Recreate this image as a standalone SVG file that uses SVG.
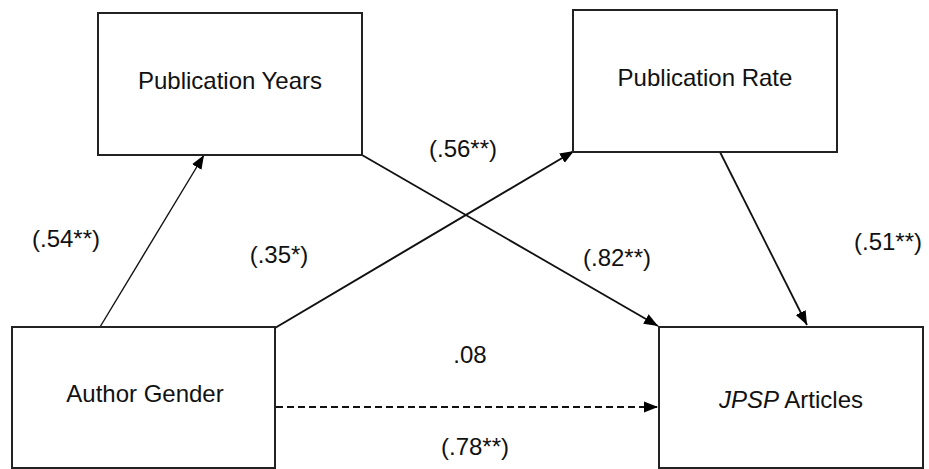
<svg xmlns="http://www.w3.org/2000/svg" width="929" height="469" viewBox="0 0 929 469">
<style>
.box{fill:#fff;stroke:#222;stroke-width:2}
.lbl{font-family:"Liberation Sans",Arial,sans-serif;font-size:24px;fill:#111;text-anchor:middle}
.num{font-family:"Liberation Sans",Arial,sans-serif;font-size:24px;fill:#111;text-anchor:middle}
.edge{stroke:#111;fill:none}
</style>
<defs>
<marker id="ah" markerUnits="userSpaceOnUse" markerWidth="15" markerHeight="12" refX="14" refY="6" orient="auto">
<path d="M0,0.5 L14,6 L0,11.5 z" fill="#000"/>
</marker>
</defs>
<rect width="929" height="469" fill="#fff"/>
<g id="connectors">
<line class="edge" x1="100" y1="327" x2="204" y2="155" stroke-width="1.4" marker-end="url(#ah)"/>
<line class="edge" x1="275" y1="328" x2="574" y2="151" stroke-width="2" marker-end="url(#ah)"/>
<line class="edge" x1="362" y1="155" x2="658" y2="326" stroke-width="1.8" marker-end="url(#ah)"/>
<line class="edge" x1="720" y1="152" x2="807" y2="325" stroke-width="1.8" marker-end="url(#ah)"/>
<line class="edge" x1="276" y1="407" x2="658" y2="407" stroke-width="1.8" stroke-dasharray="7,4" marker-end="url(#ah)"/>
</g>
<g id="publication-years">
<rect class="box" x="98" y="13" width="264" height="142"/>
<text class="lbl" x="230" y="89">Publication Years</text>
</g>
<g id="publication-rate">
<rect class="box" x="573" y="10" width="264" height="142"/>
<text class="lbl" x="705" y="86">Publication Rate</text>
</g>
<g id="author-gender">
<rect class="box" x="12" y="327" width="263" height="141"/>
<text class="lbl" x="145" y="402">Author Gender</text>
</g>
<g id="jpsp-articles">
<rect class="box" x="659" y="327" width="264" height="141"/>
<text class="lbl" x="791" y="408"><tspan font-style="italic">JPSP</tspan> Articles</text>
</g>
<g id="labels">
<text class="num" x="66" y="247">(.54**)</text>
<text class="num" x="279" y="263">(.35*)</text>
<text class="num" x="463" y="157">(.56**)</text>
<text class="num" x="617" y="266">(.82**)</text>
<text class="num" x="888" y="250">(.51**)</text>
<text class="num" x="470" y="363">.08</text>
<text class="num" x="475" y="455">(.78**)</text>
</g>
</svg>
